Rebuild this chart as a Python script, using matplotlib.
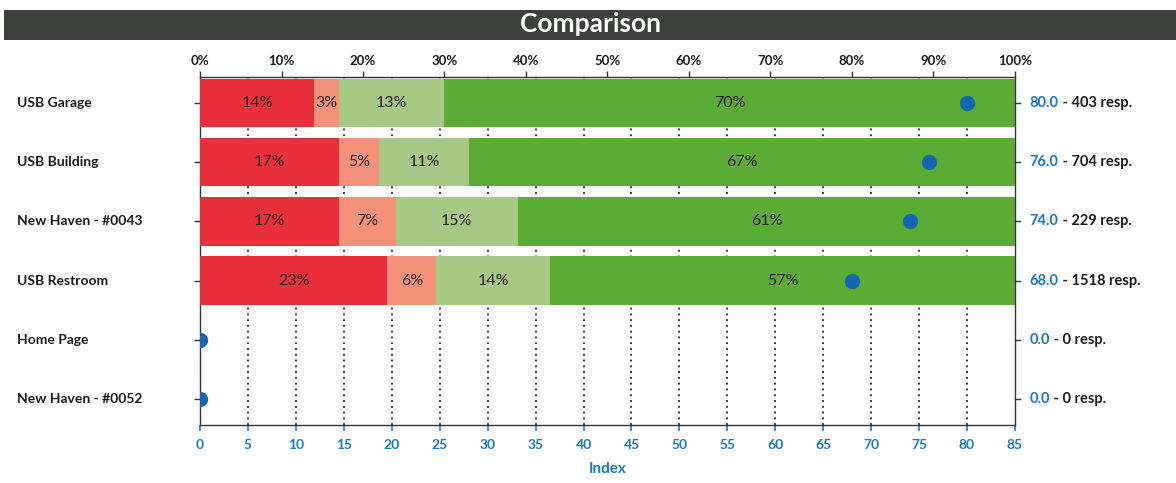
import matplotlib
matplotlib.use("Agg")
import matplotlib.pyplot as plt
from matplotlib.patches import Rectangle
import matplotlib.transforms as mtransforms

plt.rcParams['font.family'] = ['Lato', 'DejaVu Sans']

categories = ["USB Garage", "USB Building", "New Haven - #0043", "USB Restroom", "Home Page", "New Haven - #0052"]
very_neg = [14, 17, 17, 23, 0, 0]
neg = [3, 5, 7, 6, 0, 0]
pos = [13, 11, 15, 14, 0, 0]
very_pos = [70, 67, 61, 57, 0, 0]
index_vals = [80.0, 76.0, 74.0, 68.0, 0.0, 0.0]
responses = [403, 704, 229, 1518, 0, 0]
pct_ticks = [0, 10, 20, 30, 40, 50, 60, 70, 80, 90, 100]
idx_ticks = list(range(0, 90, 5))

seg_colors = ["#e8303b", "#f4917b", "#a6c985", "#5aac35"]
blue = "#1a78c2"
dot_blue = "#1565b0"

fig = plt.figure(figsize=(11.76, 4.83), dpi=100)
fig.patch.set_facecolor("white")

# title bar
fig.patches.append(Rectangle((0.003, 1 - 40 / 483), 0.997, 30 / 483, transform=fig.transFigure,
                             facecolor="#3e403e", edgecolor="none", zorder=0))
fig.text(0.502, 1 - 24 / 483, "Comparison", color="white", fontsize=19, fontweight="bold",
         ha="center", va="center")

pos_rect = [200 / 1176, 1 - 425 / 483, 815 / 1176, 348 / 483]
ax = fig.add_axes(pos_rect)  # index axis, grid
ax.set_xlim(0, 85)
n = len(categories)
ax.set_ylim(n - 0.56, -0.44)
ax.set_xticks(idx_ticks)
ax.set_xticklabels([str(t) for t in idx_ticks], color=blue, fontsize=10, fontweight="bold")
ax.tick_params(axis="x", colors=blue, length=4, width=1.2, labelcolor=blue, pad=6)
for t in idx_ticks[1:-1]:
    ax.axvline(t, color="#222222", lw=1.3, ls=(0, (1, 2.2)), zorder=0)
ax.set_xlabel("Index", color=blue, fontsize=11, fontweight="bold", labelpad=8)
ax.set_yticks(range(n))
ax.set_yticklabels([])
ax.tick_params(axis="y", length=4, width=1, color="#333333")
for s in ax.spines.values():
    s.set_color("#333333")
    s.set_linewidth(1.0)

# category labels
trans = mtransforms.blended_transform_factory(fig.transFigure, ax.transData)
for i, c in enumerate(categories):
    fig.text(17 / 1176, 0, c, transform=trans, fontsize=10, fontweight="bold", color="#1a1a1a",
             ha="left", va="center").set_y(i)

# percent axis with bars
ax2 = ax.twiny()
ax2.set_xlim(0, 100)
ax2.patch.set_visible(False)
ax2.set_xticks(pct_ticks)
ax2.set_xticklabels([f"{t}%" for t in pct_ticks], fontsize=9.5, fontweight="bold", color="#1a1a1a")
ax2.tick_params(axis="x", length=4, width=1, color="#333333", pad=3)
for s in ax2.spines.values():
    s.set_visible(False)
left = [0] * n
for vals, col in zip([very_neg, neg, pos, very_pos], seg_colors):
    ax2.barh(range(n), vals, left=left, height=0.82, color=col, edgecolor="none", zorder=2)
    for i, v in enumerate(vals):
        if v > 0:
            ax2.text(left[i] + v / 2, i, f"{v}%", ha="center", va="center", fontsize=11.5,
                     color="#2a1a1a", zorder=3)
    left = [l + v for l, v in zip(left, vals)]

# dots on index scale
ax3 = ax.twiny()
ax3.set_xlim(0, 85)
ax3.patch.set_visible(False)
ax3.set_xticks([])
for s in ax3.spines.values():
    s.set_visible(False)
ax3.scatter(index_vals, range(n), s=100, color=dot_blue, zorder=5, clip_on=True)

# right labels + right spine ticks
rtrans = mtransforms.blended_transform_factory(ax3.transAxes, ax3.transData)
for i in range(n):
    ax3.plot([1.0, 1.006], [i, i], transform=rtrans, color="#333333", lw=1, clip_on=False)
for i, (v, r) in enumerate(zip(index_vals, responses)):
    t1 = ax3.text(1.018, i, f"{v:.1f}", transform=rtrans, color=blue, fontsize=10.5,
                  fontweight="bold", ha="left", va="center")
    ax3.annotate(f" - {r} resp.", xy=(1, 0.5), xycoords=t1, color="#1a1a1a", fontsize=10.5,
                 fontweight="bold", ha="left", va="center")

fig.savefig("out.png", dpi=100)
